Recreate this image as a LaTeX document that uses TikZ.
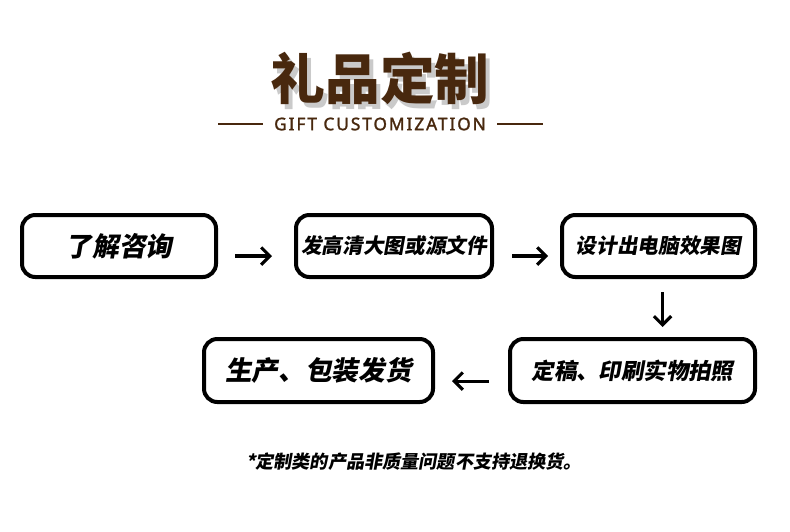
\documentclass[tikz,border=0pt]{standalone}
\usepackage{fontspec}
\usetikzlibrary{positioning,arrows.meta}
\newfontfamily\cjk[FakeSlant=0.18]{Noto Sans CJK SC}
\newfontfamily\cjktitle{Noto Sans CJK SC}
\newfontfamily\latin[LetterSpace=11,FakeBold=1.6]{Noto Sans}
\definecolor{GiftBrown}{RGB}{72,40,14}
\definecolor{ShadowGray}{RGB}{150,150,150}
\tikzset{
  stepbox/.style={draw=black,line width=3pt,rounded corners=10pt,fill=white,
    minimum height=46.5pt,align=center,inner sep=0pt,font=\cjk\bfseries},
  flow/.style={-{Straight Barb[length=6.5pt,width=13pt,line width=2.3pt]},line width=2.3pt,draw=black},
  rule/.style={line width=1.2pt,draw=GiftBrown},
  titletext/.style={font=\cjktitle\bfseries\fontsize{41}{46}\selectfont}
}
\begin{document}
\begin{tikzpicture}[x=0.75pt,y=-0.75pt]
  \useasboundingbox[fill=white] (0,0) rectangle (790,532);
  % title
  \node[titletext,text=ShadowGray!50] (titleshadow) at (384,83) {礼品定制};
  \node[titletext,text=GiftBrown] (title) at (380,78) {礼品定制};
  \node[text=GiftBrown,font=\latin\fontsize{13}{15}\selectfont] (sub) at (380,124) {GIFT CUSTOMIZATION};
  \coordinate (ruleL) at (218,124);
  \coordinate (ruleR) at (543,124);
  \draw[rule] (ruleL) -- ([xshift=-5pt]sub.west);
  \draw[rule] ([xshift=5pt]sub.east) -- (ruleR);
  % steps
  \node[stepbox,minimum width=145.5pt,font=\cjk\bfseries\fontsize{20}{24}\selectfont] (ask) at (119,246) {了解咨询};
  \node[stepbox,minimum width=147pt,font=\cjk\bfseries\fontsize{15.5}{18}\selectfont] (file) at (394,246) {发高清大图或源文件};
  \node[stepbox,minimum width=144.75pt,font=\cjk\bfseries\fontsize{15.5}{18}\selectfont] (render) at (658.5,246) {设计出电脑效果图};
  \node[stepbox,minimum width=183.75pt,minimum height=47.25pt,font=\cjk\bfseries\fontsize{16.8}{20}\selectfont] (proof) at (632.5,370.5) {定稿、印刷实物拍照};
  \node[stepbox,minimum width=171.75pt,minimum height=47.25pt,font=\cjk\bfseries\fontsize{20}{24}\selectfont] (ship) at (318.5,370.5) {生产、包装发货};
  % arrows
  \draw[flow,shorten <=12.75pt,shorten >=16.5pt] ([yshift=-7.5pt]ask.east) -- ([yshift=-7.5pt]file.west);
  \draw[flow,shorten <=13.5pt,shorten >=9pt] ([yshift=-7.5pt]file.east) -- ([yshift=-7.5pt]render.west);
  \draw[flow,shorten <=9.75pt,shorten >=7.5pt] ([xshift=3pt]render.south) -- ([xshift=22.5pt]proof.north);
  \draw[flow,shorten <=14.25pt,shorten >=12.75pt] ([yshift=-7.9pt]proof.west) -- ([yshift=-7.9pt]ship.east);
  % note
  \node[font=\cjk\bfseries\fontsize{13.6}{16}\selectfont] (note) at (414,462) {*定制类的产品非质量问题不支持退换货。};
\end{tikzpicture}
\end{document}
